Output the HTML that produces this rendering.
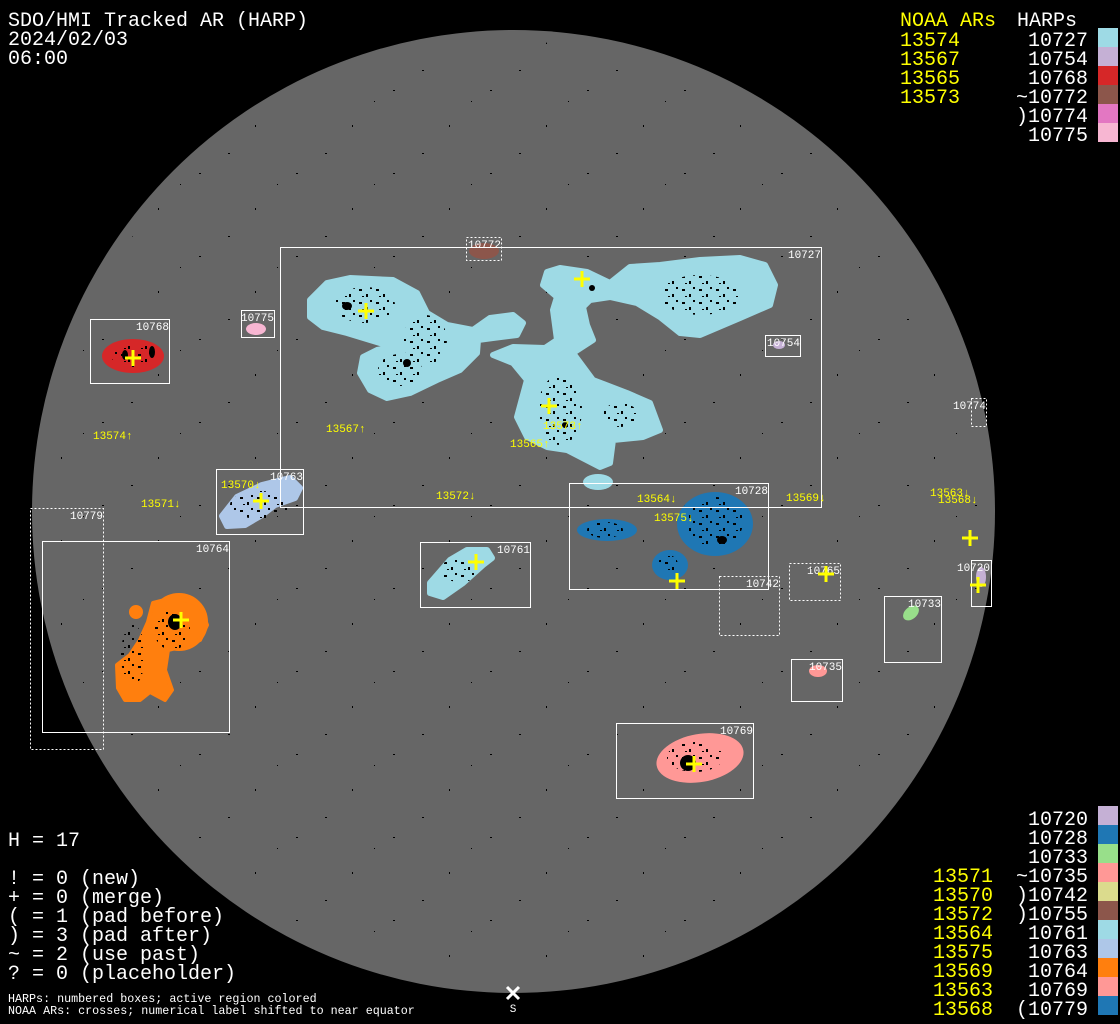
<!DOCTYPE html>
<html><head><meta charset="utf-8"><style>
html,body{margin:0;padding:0;background:#000;}
svg{display:block;}
text{font-family:"Liberation Mono","DejaVu Sans Mono",monospace;}
</style></head><body>
<svg width="1120" height="1024" viewBox="0 0 1120 1024" xmlns="http://www.w3.org/2000/svg">
<defs>
<pattern id="spk" width="17" height="13" patternUnits="userSpaceOnUse">
<rect x="2" y="3" width="3" height="2" fill="#000"/><rect x="9" y="8" width="2" height="3" fill="#000"/><rect x="13" y="1" width="2" height="2" fill="#000"/><rect x="5" y="10" width="2" height="1" fill="#000"/>
</pattern>
<pattern id="dust" width="97" height="83" patternUnits="userSpaceOnUse">
<rect x="5" y="7" width="2" height="1" fill="#000"/><rect x="61" y="42" width="1" height="2" fill="#000"/><rect x="34" y="70" width="2" height="1" fill="#000"/><rect x="83" y="18" width="1" height="1" fill="#000"/>
</pattern>
</defs>
<rect width="1120" height="1024" fill="#000"/>
<circle cx="513.5" cy="511.5" r="481.5" fill="#666"/>
<circle cx="513.5" cy="511.5" r="470" fill="url(#dust)"/>

<!-- active regions -->
<g fill="#9edae5" stroke="#9edae5" stroke-width="6" stroke-linejoin="round">
<polygon points="310,300 327,283 350,278 393,280 417,293 427,313 447,325 473,330 490,318 513,315 523,323 517,335 493,338 478,340 477,353 460,370 437,380 410,393 387,398 370,390 360,373 363,357 377,350 393,347 370,340 347,333 323,327 310,317"/>
<polygon points="493,355 513,347 545,348 557,340 553,310 557,297 543,285 547,272 560,268 587,272 610,283 630,267 660,265 700,260 740,258 765,265 775,285 770,305 740,318 700,335 680,333 660,317 637,303 610,297 590,300 583,307 587,325 593,340 573,353 593,380 627,393 650,403 660,430 643,437 613,440 610,463 600,467 567,450 547,447 527,437 517,417 527,380 513,363"/>
<polygon points="430,583 450,560 467,550 487,550 492,558 483,565 463,583 443,597 430,593"/>
</g>
<ellipse cx="598" cy="482" rx="15" ry="8" fill="#9edae5"/>
<ellipse cx="133" cy="356" rx="31" ry="17" fill="#d62728"/>
<ellipse cx="256" cy="329" rx="10" ry="6" fill="#f7b6d2"/>
<ellipse cx="484" cy="251" rx="15" ry="8" fill="#8c564b"/>
<ellipse cx="779" cy="345" rx="6" ry="4" fill="#c5b0d5"/>
<g fill="#1f77b4">
<ellipse cx="607" cy="530" rx="30" ry="11"/>
<ellipse cx="715" cy="524" rx="38" ry="32"/>
<ellipse cx="670" cy="565" rx="18" ry="15"/>
</g>
<polygon fill="#aec7e8" stroke="#aec7e8" stroke-width="6" stroke-linejoin="round" points="222,516 237,497 262,485 290,478 300,488 295,498 275,505 262,515 245,525 227,526"/>
<g fill="#ff7f0e" stroke="#ff7f0e" stroke-width="4" stroke-linejoin="round">
<circle cx="179" cy="622" r="27"/>
<polygon points="153,603 177,597 200,605 207,625 200,640 180,647 168,650 165,670 172,690 165,700 150,692 140,700 125,700 118,688 117,665 130,655 140,640 148,622"/>
<circle cx="136" cy="612" r="5"/>
</g>
<ellipse cx="700" cy="758" rx="44" ry="24" transform="rotate(-10 700 758)" fill="#ff9896"/>
<ellipse cx="911" cy="613" rx="9" ry="6" transform="rotate(-40 911 613)" fill="#98df8a"/>
<ellipse cx="818" cy="671" rx="9" ry="6" fill="#ff9896"/>
<ellipse cx="981" cy="577" rx="5" ry="10" fill="#c5b0d5"/>

<!-- sunspot speckles -->
<g fill="url(#spk)">
<ellipse cx="365" cy="305" rx="30" ry="18"/><ellipse cx="425" cy="340" rx="22" ry="25"/><ellipse cx="400" cy="370" rx="22" ry="16"/>
<ellipse cx="560" cy="410" rx="22" ry="35"/><ellipse cx="700" cy="295" rx="40" ry="20"/><ellipse cx="620" cy="415" rx="18" ry="12"/>
<ellipse cx="715" cy="522" rx="28" ry="25"/><ellipse cx="605" cy="530" rx="18" ry="8"/><ellipse cx="668" cy="565" rx="10" ry="10"/>
<ellipse cx="695" cy="757" rx="28" ry="15"/><ellipse cx="172" cy="630" rx="18" ry="20"/><ellipse cx="133" cy="655" rx="12" ry="30"/>
<ellipse cx="133" cy="355" rx="22" ry="12"/><ellipse cx="260" cy="505" rx="30" ry="14"/><ellipse cx="460" cy="570" rx="20" ry="12"/>
</g>
<g fill="#000">
<ellipse cx="347" cy="306" rx="5" ry="4"/><ellipse cx="407" cy="363" rx="4" ry="4"/><ellipse cx="175" cy="622" rx="7" ry="8"/>
<ellipse cx="688" cy="763" rx="8" ry="8"/><ellipse cx="722" cy="540" rx="5" ry="4"/><ellipse cx="592" cy="288" rx="3" ry="3"/>
<ellipse cx="565" cy="425" rx="3" ry="3"/><ellipse cx="125" cy="355" rx="3" ry="5"/><ellipse cx="152" cy="352" rx="3" ry="6"/>
</g>

<!-- HARP boxes -->
<g fill="none" stroke="#fff" stroke-width="1">
<rect x="280.5" y="247.5" width="541" height="260"/>
<rect x="241.5" y="310.5" width="33" height="27"/>
<rect x="90.5" y="319.5" width="79" height="64"/>
<rect x="765.5" y="335.5" width="35" height="21"/>
<rect x="216.5" y="469.5" width="87" height="65"/>
<rect x="42.5" y="541.5" width="187" height="191"/>
<rect x="420.5" y="542.5" width="110" height="65"/>
<rect x="569.5" y="483.5" width="199" height="106"/>
<rect x="971.5" y="560.5" width="20" height="46"/>
<rect x="884.5" y="596.5" width="57" height="66"/>
<rect x="791.5" y="659.5" width="51" height="42"/>
<rect x="616.5" y="723.5" width="137" height="75"/>
</g>
<g fill="none" stroke="#fff" stroke-width="1" stroke-dasharray="2,2">
<rect x="466.5" y="237.5" width="35" height="23"/>
<rect x="971.5" y="398.5" width="15" height="28"/>
<rect x="30.5" y="508.5" width="73" height="241"/>
<rect x="719.5" y="576.5" width="60" height="59"/>
<rect x="789.5" y="563.5" width="51" height="37"/>
</g>
<g fill="#fff" font-size="11" text-anchor="end">
<text x="821" y="258">10727</text>
<text x="501" y="248">10772</text>
<text x="274" y="321">10775</text>
<text x="169" y="330">10768</text>
<text x="800" y="346">10754</text>
<text x="986" y="409">10774</text>
<text x="303" y="480">10763</text>
<text x="103" y="519">10779</text>
<text x="229" y="552">10764</text>
<text x="530" y="553">10761</text>
<text x="768" y="494">10728</text>
<text x="779" y="587">10742</text>
<text x="840" y="574">10765</text>
<text x="990" y="571">10720</text>
<text x="941" y="607">10733</text>
<text x="842" y="670">10735</text>
<text x="753" y="734">10769</text>
</g>

<!-- NOAA labels -->
<g fill="#ff0" font-size="11">
<text x="93" y="439">13574↑</text>
<text x="326" y="432">13567↑</text>
<text x="543" y="429">13573↑</text>
<text x="510" y="447">13565↑</text>
<text x="221" y="488">13570↓</text>
<text x="141" y="507">13571↓</text>
<text x="436" y="499">13572↓</text>
<text x="637" y="502">13564↓</text>
<text x="654" y="521">13575↓</text>
<text x="786" y="501">13569↓</text>
<text x="930" y="496">13563↓</text>
<text x="938" y="503">13568↓</text>
</g>
<g stroke="#ff0" stroke-width="3" fill="none">
<path d="M125 358h16M133 350v16"/>
<path d="M358 311h16M366 303v16"/>
<path d="M574 279h16M582 271v16"/>
<path d="M541 406h16M549 398v16"/>
<path d="M253 501h16M261 493v16"/>
<path d="M173 620h16M181 612v16"/>
<path d="M468 562h16M476 554v16"/>
<path d="M669 581h16M677 573v16"/>
<path d="M686 764h16M694 756v16"/>
<path d="M818 574h16M826 566v16"/>
<path d="M962 538h16M970 530v16"/>
<path d="M970 585h16M978 577v16"/>
</g>

<!-- south marker -->
<path d="M507 987l12 12M519 987l-12 12" stroke="#fff" stroke-width="3"/>
<text x="513" y="1012" fill="#fff" font-size="11" text-anchor="middle">S</text>

<!-- title -->
<g fill="#fff" font-size="20">
<text x="8" y="26">SDO/HMI Tracked AR (HARP)</text>
<text x="8" y="45">2024/02/03</text>
<text x="8" y="64">06:00</text>
</g>

<!-- top legend -->
<g font-size="20">
<text x="900" y="26" fill="#ff0">NOAA ARs</text>
<text x="1017" y="26" fill="#fff">HARPs</text>
<g fill="#ff0">
<text x="900" y="46">13574</text><text x="900" y="65">13567</text><text x="900" y="84">13565</text><text x="900" y="103">13573</text>
</g>
<g fill="#fff" text-anchor="end">
<text x="1088" y="46">10727</text><text x="1088" y="65">10754</text><text x="1088" y="84">10768</text>
<text x="1088" y="103">~10772</text><text x="1088" y="122">)10774</text><text x="1088" y="141">10775</text>
</g>
</g>
<rect x="1098" y="28" width="20" height="19" fill="#9edae5"/>
<rect x="1098" y="47" width="20" height="19" fill="#c5b0d5"/>
<rect x="1098" y="66" width="20" height="19" fill="#d62728"/>
<rect x="1098" y="85" width="20" height="19" fill="#8c564b"/>
<rect x="1098" y="104" width="20" height="19" fill="#e377c2"/>
<rect x="1098" y="123" width="20" height="19" fill="#f7b6d2"/>

<!-- bottom-left legend -->
<g fill="#fff" font-size="20">
<text x="8" y="846">H = 17</text>
<text x="8" y="884">! = 0 (new)</text>
<text x="8" y="903">+ = 0 (merge)</text>
<text x="8" y="922">( = 1 (pad before)</text>
<text x="8" y="941">) = 3 (pad after)</text>
<text x="8" y="960">~ = 2 (use past)</text>
<text x="8" y="979">? = 0 (placeholder)</text>
</g>
<g fill="#fff" font-size="11.7">
<text x="8" y="1002">HARPs: numbered boxes; active region colored</text>
<text x="8" y="1014">NOAA ARs: crosses; numerical label shifted to near equator</text>
</g>

<!-- bottom-right legend -->
<g font-size="20">
<g fill="#fff" text-anchor="end">
<text x="1088" y="825">10720</text><text x="1088" y="844">10728</text><text x="1088" y="863">10733</text>
<text x="1088" y="882">~10735</text><text x="1088" y="901">)10742</text><text x="1088" y="920">)10755</text>
<text x="1088" y="939">10761</text><text x="1088" y="958">10763</text><text x="1088" y="977">10764</text>
<text x="1088" y="996">10769</text><text x="1088" y="1015">(10779</text>
</g>
<g fill="#ff0">
<text x="933" y="882">13571</text><text x="933" y="901">13570</text><text x="933" y="920">13572</text>
<text x="933" y="939">13564</text><text x="933" y="958">13575</text><text x="933" y="977">13569</text>
<text x="933" y="996">13563</text><text x="933" y="1015">13568</text>
</g>
</g>
<rect x="1098" y="806" width="20" height="19" fill="#c5b0d5"/>
<rect x="1098" y="825" width="20" height="19" fill="#1f77b4"/>
<rect x="1098" y="844" width="20" height="19" fill="#98df8a"/>
<rect x="1098" y="863" width="20" height="19" fill="#ff9896"/>
<rect x="1098" y="882" width="20" height="19" fill="#dbdb8d"/>
<rect x="1098" y="901" width="20" height="19" fill="#8c564b"/>
<rect x="1098" y="920" width="20" height="19" fill="#9edae5"/>
<rect x="1098" y="939" width="20" height="19" fill="#aec7e8"/>
<rect x="1098" y="958" width="20" height="19" fill="#ff7f0e"/>
<rect x="1098" y="977" width="20" height="19" fill="#ff9896"/>
<rect x="1098" y="996" width="20" height="19" fill="#1f77b4"/>
</svg>
</body></html>
